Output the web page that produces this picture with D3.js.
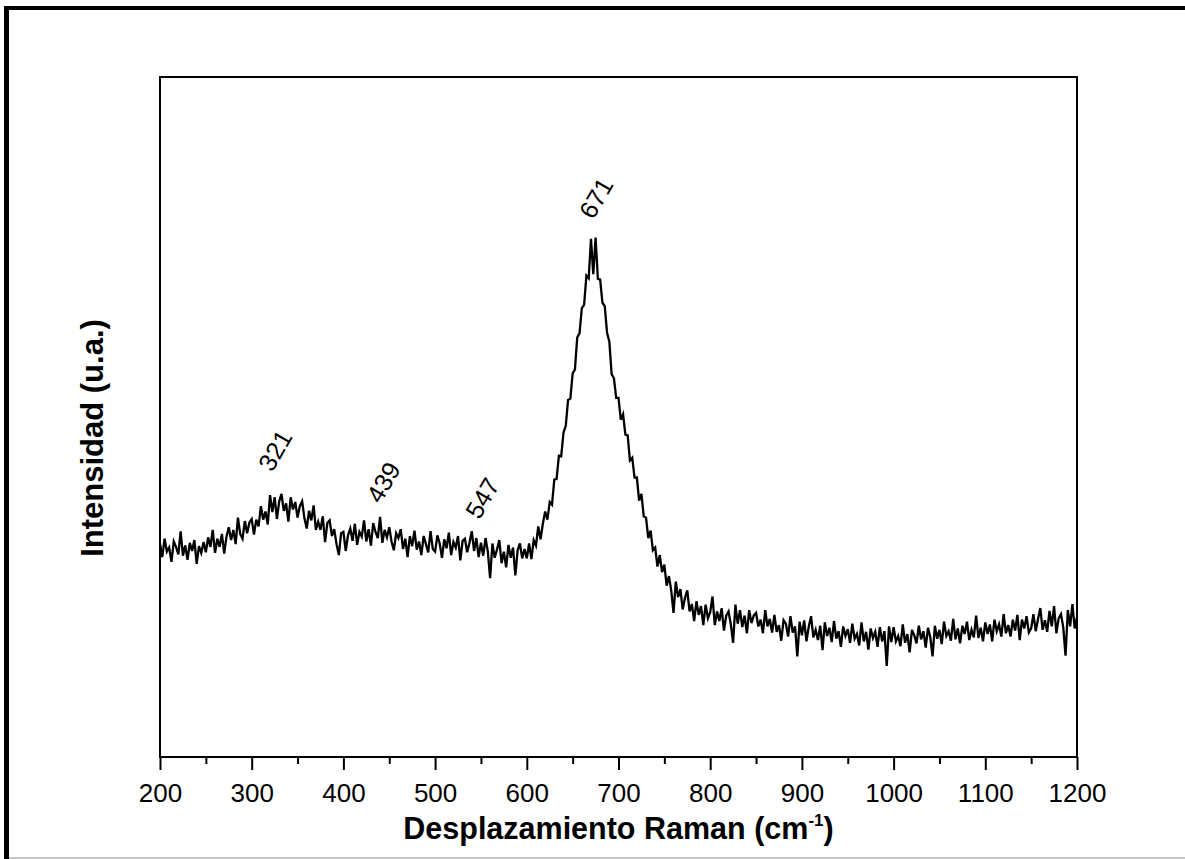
<!DOCTYPE html>
<html><head><meta charset="utf-8">
<script src="https://cdn.jsdelivr.net/npm/d3@7"></script>
<style>html,body{margin:0;padding:0;background:#fff;} svg{display:block;}</style>
</head><body>
<svg id="chart" width="1185" height="859"></svg>
<script>
// Raman shift sampling (cm-1)
const shiftStart = 200;
const shiftStep = 2.5;
// Intensity (arb. units), one value per sample from 200 to 1200 cm-1
const intensity = [
31.4,29.4,32.1,30.2,30.8,28.7,31.7,30.9,29.8,33.2,29.6,31.1,29.0,31.5,30.3,31.9,28.4,31.0,30.0,31.6,
30.1,32.3,30.9,33.4,30.0,32.1,30.9,32.8,29.9,32.4,33.8,31.9,33.4,31.3,35.2,32.8,32.1,34.7,32.9,34.5,
35.0,32.7,34.9,33.9,36.9,34.9,36.1,34.2,38.5,36.0,38.2,35.0,37.6,38.7,36.2,37.3,34.6,38.2,36.4,37.5,
35.2,36.9,37.6,35.1,33.6,36.2,34.8,37.0,33.4,34.6,33.4,35.4,31.6,34.4,34.8,32.5,33.5,31.3,29.7,32.9,
33.1,30.3,32.6,33.6,31.8,34.3,31.2,33.1,32.4,34.8,31.7,33.5,31.1,34.4,33.1,32.2,35.3,31.5,33.4,32.3,
33.8,31.7,30.4,32.9,32.2,33.5,30.6,32.1,29.4,32.5,31.0,33.3,30.5,31.7,29.7,32.5,31.3,30.1,33.2,30.6,
30.2,32.6,31.4,29.3,32.0,30.7,33.0,29.7,31.6,30.8,32.5,28.9,31.8,32.1,30.1,31.5,33.2,30.3,32.2,29.4,
31.5,29.6,32.2,30.2,26.3,31.4,29.3,30.5,31.9,28.5,30.2,27.9,31.2,29.3,30.8,26.7,30.4,31.4,29.2,30.6,
29.2,31.4,29.1,31.9,31.1,33.9,32.0,34.3,36.1,34.9,37.5,37.1,40.8,40.9,44.3,44.2,47.7,48.7,52.5,52.7,
56.4,57.0,61.7,62.3,66.0,66.5,70.8,70.4,76.2,71.0,76.4,70.3,70.2,66.8,66.3,62.4,61.1,56.3,55.7,52.8,
52.8,49.6,50.4,47.4,47.3,43.6,44.0,41.1,41.1,37.7,38.7,35.4,35.2,32.2,33.3,30.4,30.8,28.0,29.7,27.2,
28.3,25.2,26.6,24.5,21.2,25.8,23.5,24.7,21.7,23.4,24.5,21.4,22.5,20.0,22.9,20.9,22.2,19.4,22.4,20.4,
21.3,23.6,19.4,21.4,20.0,21.9,18.6,20.8,21.4,19.5,16.8,22.4,19.6,21.6,19.1,20.8,18.2,21.6,19.7,20.8,
21.2,19.2,20.2,18.2,21.6,19.2,20.3,18.3,20.9,18.4,19.4,17.1,20.1,19.6,17.7,20.7,18.3,19.2,14.8,19.9,
17.9,20.1,17.0,19.2,20.7,17.6,18.7,17.2,19.3,15.7,19.8,17.8,19.0,16.9,20.0,17.4,18.5,16.2,19.2,17.8,
18.8,16.8,19.6,17.4,18.1,16.4,19.8,17.0,18.4,15.8,18.9,17.5,18.4,16.2,19.1,17.0,18.5,13.4,19.2,16.9,
19.1,17.0,17.8,16.3,19.5,16.8,18.1,15.4,18.7,17.9,16.7,19.3,17.3,18.5,16.1,19.0,17.6,14.8,19.3,17.4,
18.7,16.6,19.9,17.8,18.5,17.1,20.3,17.3,18.9,16.7,19.3,18.1,19.9,17.2,18.7,17.6,20.8,17.5,19.0,17.0,
19.8,18.1,19.5,17.0,20.2,18.5,19.5,17.7,21.0,18.2,19.4,17.7,20.2,18.6,20.9,17.2,20.2,18.9,20.7,18.3,
18.9,21.0,18.5,20.3,21.9,18.7,20.1,18.4,21.5,19.2,22.2,18.2,20.4,21.0,19.1,14.9,21.6,19.2,22.5,18.9,
20.6
];
const xTicksMajor = [200,300,400,500,600,700,800,900,1000,1100,1200];
const xTicksMinor = [250,350,450,550,650,750,850,950,1050,1150];
const peakShifts = [321,439,547,671];
const peakLabelLevels = [45.1,40.4,38.1,82.2];

const m = {left:160, right:1077, top:77, bottom:757};
const svg = d3.select('#chart');
const FONT = '"Liberation Sans", Arial, Helvetica, sans-serif';

// outer frame
svg.append('line').attr('x1',6.5).attr('x2',6.5).attr('y1',6).attr('y2',859)
  .attr('stroke','#000').attr('stroke-width',5);
svg.append('line').attr('x1',4).attr('x2',1185).attr('y1',8).attr('y2',8)
  .attr('stroke','#000').attr('stroke-width',4);
svg.append('line').attr('x1',9).attr('x2',1185).attr('y1',858).attr('y2',858)
  .attr('stroke','#b0b0b0').attr('stroke-width',1.5);

const x = d3.scaleLinear().domain([200,1200]).range([m.left,m.right]);
const y = d3.scaleLinear().domain([0,100]).range([m.bottom,m.top]);

const line = d3.line()
  .x((d,i)=>x(shiftStart + i*shiftStep))
  .y(d=>y(d));

svg.append('path').datum(intensity)
  .attr('d', line).attr('fill','none')
  .attr('stroke','#000').attr('stroke-width',2.3).attr('stroke-linejoin','miter');

// axis box
svg.append('rect').attr('x',m.left).attr('y',m.top)
  .attr('width',m.right-m.left).attr('height',m.bottom-m.top)
  .attr('fill','none').attr('stroke','#000').attr('stroke-width',2);

// minor ticks
const gMinor = svg.append('g').attr('transform',`translate(0,${m.bottom})`)
  .call(d3.axisBottom(x).tickValues(xTicksMinor).tickSize(7).tickFormat(''));
gMinor.select('.domain').remove();
gMinor.selectAll('line').attr('stroke','#000').attr('stroke-width',2);

// major ticks
const gMajor = svg.append('g').attr('transform',`translate(0,${m.bottom})`)
  .call(d3.axisBottom(x).tickValues(xTicksMajor).tickSize(13).tickFormat(d3.format('d')));
gMajor.select('.domain').remove();
gMajor.selectAll('line').attr('stroke','#000').attr('stroke-width',2);
gMajor.selectAll('text').attr('y',45).attr('dy',null)
  .attr('font-family',FONT).attr('font-size',26).attr('fill','#000');

// x title
const xt = svg.append('text').attr('x',(m.left+m.right)/2).attr('y',839)
  .attr('text-anchor','middle').attr('font-family',FONT)
  .attr('font-weight','bold').attr('font-size',30.5).attr('fill','#000');
xt.append('tspan').text('Desplazamiento Raman (cm');
xt.append('tspan').attr('dy',-13).attr('font-size',17).text('-1');
xt.append('tspan').attr('dy',13).text(')');

// y title
svg.append('text').attr('transform','translate(103,438) rotate(-90)')
  .attr('text-anchor','middle').attr('font-family',FONT)
  .attr('font-weight','bold').attr('font-size',31).attr('fill','#000')
  .text('Intensidad (u.a.)');

// peak labels
svg.selectAll('.peak').data(peakShifts).enter().append('text')
  .attr('class','peak')
  .attr('transform',(d,i)=>`translate(${x(d)+4},${y(peakLabelLevels[i])}) rotate(-60)`)
  .attr('text-anchor','middle').attr('dominant-baseline','central')
  .attr('font-family',FONT).attr('font-size',25).attr('fill','#000')
  .text(d=>d);
</script>
</body></html>
